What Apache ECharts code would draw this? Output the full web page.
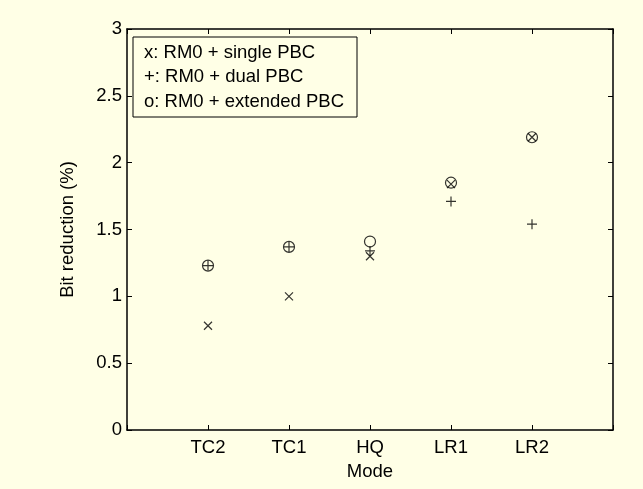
<!DOCTYPE html>
<html><head><meta charset="utf-8">
<script src="https://cdn.jsdelivr.net/npm/echarts@6/dist/echarts.min.js"></script>
<style>html,body{margin:0;padding:0;background:#FFFFE6}#c{width:643px;height:489px}</style>
</head><body><div id="c"></div>
<script>
const categories = ['TC2', 'TC1', 'HQ', 'LR1', 'LR2'];
const singlePBC = [0.78, 1.00, 1.30, 1.84, 2.19];
const dualPBC = [1.23, 1.37, 1.34, 1.71, 1.54];
const extendedPBC = [1.23, 1.37, 1.41, 1.85, 2.19];
const seriesNames = ['x: RM0 + single PBC', '+: RM0 + dual PBC', 'o: RM0 + extended PBC'];

const FONT = 'Liberation Sans, Arial, sans-serif';
const FS = 18.5;
const toPoints = arr => arr.map((v, i) => [i + 1, v]);

const mkLine = () => ({ show: true, onZero: false, lineStyle: { color: '#000', width: 1.5 } });
const mkTick = () => ({ show: true, inside: true, length: 5, lineStyle: { color: '#000', width: 1 } });

const chart = echarts.init(document.getElementById('c'));
chart.setOption({
  backgroundColor: '#FFFFE6',
  animation: false,
  textStyle: { fontFamily: FONT },
  grid: { left: 127, right: 30, top: 29, bottom: 59 },
  legend: {
    data: seriesNames,
    orient: 'vertical',
    left: 133, top: 37,
    selectedMode: false,
    icon: 'rect',
    itemWidth: 0, itemHeight: 0,
    itemGap: 5.5,
    padding: [6, 13, 6, 5],
    backgroundColor: '#FFFFE6',
    borderColor: '#000', borderWidth: 1,
    textStyle: { fontFamily: FONT, fontSize: FS, color: '#000', lineHeight: 19 }
  },
  xAxis: [{
    type: 'value', position: 'bottom', min: 0, max: 6, interval: 1,
    axisLine: mkLine(), axisTick: mkTick(), splitLine: { show: false },
    axisLabel: { color: '#000', fontSize: FS, margin: 8, fontFamily: FONT,
      formatter: v => categories[v - 1] || '' },
    name: 'Mode', nameLocation: 'middle', nameGap: 32,
    nameTextStyle: { color: '#000', fontSize: FS, fontFamily: FONT }
  }, {
    type: 'value', position: 'top', min: 0, max: 6, interval: 1,
    axisLine: mkLine(), axisTick: mkTick(), splitLine: { show: false }, axisLabel: { show: false }
  }],
  yAxis: [{
    type: 'value', position: 'left', min: 0, max: 3, interval: 0.5,
    axisLine: mkLine(), axisTick: mkTick(), splitLine: { show: false },
    axisLabel: { color: '#000', fontSize: FS, margin: 5, fontFamily: FONT },
    name: 'Bit reduction (%)', nameLocation: 'middle', nameGap: 50,
    nameTextStyle: { color: '#000', fontSize: FS, fontFamily: FONT }
  }, {
    type: 'value', position: 'right', min: 0, max: 3, interval: 0.5,
    axisLine: mkLine(), axisTick: mkTick(), splitLine: { show: false }, axisLabel: { show: false }
  }],
  series: [{
    name: seriesNames[0], type: 'scatter', data: toPoints(singlePBC),
    symbol: 'path://M0,0L10,10M10,0L0,10', symbolSize: 8,
    itemStyle: { color: 'transparent', borderColor: '#000', borderWidth: 1.2 }
  }, {
    name: seriesNames[1], type: 'scatter', data: toPoints(dualPBC),
    symbol: 'path://M5,0L5,10M0,5L10,5', symbolSize: 10,
    itemStyle: { color: 'transparent', borderColor: '#000', borderWidth: 1.2 }
  }, {
    name: seriesNames[2], type: 'scatter', data: toPoints(extendedPBC),
    symbol: 'circle', symbolSize: 11,
    itemStyle: { color: 'transparent', borderColor: '#000', borderWidth: 1.2 }
  }]
});
</script></body></html>
